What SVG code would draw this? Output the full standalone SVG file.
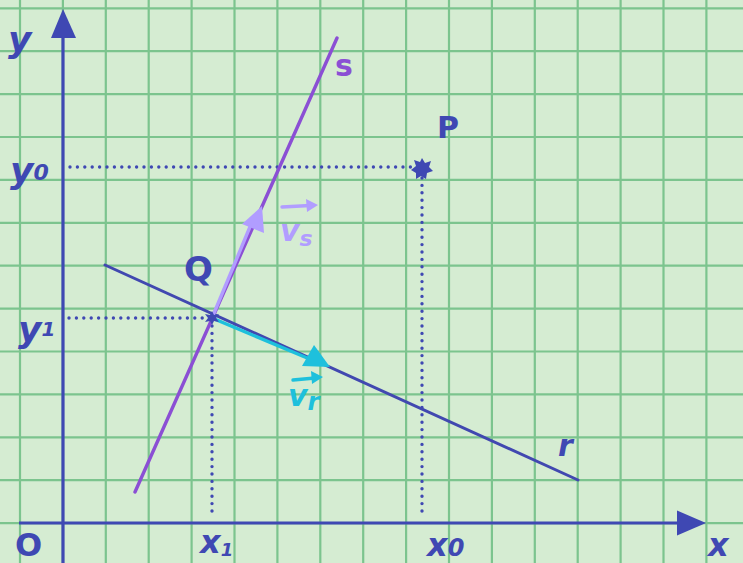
<svg xmlns="http://www.w3.org/2000/svg" width="743" height="563" viewBox="0 0 743 563">
<defs>
<style>
.grid{stroke:#7cc48e;stroke-width:2.2;fill:none}
.ax{stroke:#3f48b3;stroke-width:3.2;fill:none}
.dot{stroke:#3f48b3;stroke-width:3.4;stroke-linecap:round;stroke-dasharray:0 7.4;fill:none}
.lbl{font-family:"DejaVu Sans",sans-serif;font-weight:bold;fill:#3f48b3}
.hd{fill:#3f48b3}
</style>
</defs>
<rect width="743" height="563" fill="#d5ecd2"/>
<g id="grid">
<path class="grid" d="M20 0V563M62.9 0V563M105.8 0V563M148.7 0V563M191.6 0V563M234.5 0V563M277.4 0V563M320.3 0V563M363.2 0V563M406.1 0V563M449 0V563M491.9 0V563M534.8 0V563M577.7 0V563M620.6 0V563M663.5 0V563M706.4 0V563"/>
<path class="grid" d="M0 8.3H743M0 51.2H743M0 94.1H743M0 137H743M0 179.9H743M0 222.8H743M0 265.7H743M0 308.6H743M0 351.5H743M0 394.4H743M0 437.3H743M0 480.2H743M0 523.1H743"/>
</g>
<g id="axes">
<line class="ax" x1="63" y1="563" x2="63" y2="30"/>
<polygon class="hd" points="63,9 51,38 76,38"/>
<line class="ax" x1="19" y1="523" x2="685" y2="523"/>
<polygon class="hd" points="706,523 677,510.5 677,535.5"/>
</g>
<g id="connectors">
<line class="dot" x1="70" y1="167" x2="414" y2="167"/>
<line class="dot" x1="422" y1="178" x2="422" y2="518"/>
<line class="dot" x1="69" y1="318" x2="206" y2="318"/>
<line class="dot" x1="212" y1="326" x2="212" y2="518"/>
<line id="line-s" x1="135" y1="492" x2="337" y2="38" stroke="#8b4fd4" stroke-width="3.4" stroke-linecap="round"/>
<line id="line-r" x1="105" y1="265" x2="578" y2="480" stroke="#4148b0" stroke-width="3" stroke-linecap="round"/>
<line id="vec-s" x1="212" y1="318" x2="252" y2="222" stroke="#b19dff" stroke-width="3.4"/>
<polygon points="262,206 242,224 264,233" fill="#b19dff"/>
<line id="vec-r" x1="212" y1="318" x2="312" y2="360" stroke="#1ec0dc" stroke-width="3.4"/>
<polygon points="330,367 302,366 314,345" fill="#1ec0dc"/>
</g>
<g id="P">
<polygon class="hd" points="422,158 425,163 431,161 429,167 433,171 427,173 426,179 421,176 416,179 416,173 411,170 416,166 414,160 420,162"/>
<text class="lbl" x="437" y="138" font-size="30">P</text>
</g>
<g id="Q">
<polygon class="hd" points="212,311 214,315 219,314 216,318 219,322 214,321 212,325 210,321 205,322 208,318 205,314 210,315"/>
<text class="lbl" x="184" y="281" font-size="34">Q</text>
</g>
<g id="labels">
<text class="lbl" x="8" y="52" font-size="36" font-style="italic">y</text>
<text class="lbl" x="10" y="183" font-size="36" font-style="italic">y<tspan font-size="22" dy="-3">0</tspan></text>
<text class="lbl" x="18" y="342" font-size="36" font-style="italic">y<tspan font-size="20" dy="-6">1</tspan></text>
<text class="lbl" x="15" y="556" font-size="32">O</text>
<text class="lbl" x="200" y="553" font-size="32" font-style="italic">x<tspan font-size="18" dy="3">1</tspan></text>
<text class="lbl" x="427" y="556" font-size="32" font-style="italic">x<tspan font-size="24" dy="0">0</tspan></text>
<text class="lbl" x="708" y="556" font-size="32" font-style="italic">x</text>
<text x="335" y="76" font-size="30" font-family="DejaVu Sans,sans-serif" font-weight="bold" fill="#8b4fd4">s</text>
<text class="lbl" x="558" y="456" font-size="30" font-style="italic">r</text>
</g>
<g id="label-vs" fill="#b19dff">
<path d="M282 207 L310 205.5" stroke="#b19dff" stroke-width="3.4" stroke-linecap="round"/>
<polygon points="318,205 306,199 307,212"/>
<text x="280" y="241" font-size="30" font-family="DejaVu Sans,sans-serif" font-weight="bold" font-style="italic">v<tspan font-size="22" dy="5">s</tspan></text>
</g>
<g id="label-vr" fill="#1ec0dc">
<path d="M293 380 L315 378" stroke="#1ec0dc" stroke-width="3.4" stroke-linecap="round"/>
<polygon points="323,377 311,371 312,384"/>
<text x="288" y="406" font-size="30" font-family="DejaVu Sans,sans-serif" font-weight="bold" font-style="italic">v<tspan font-size="24" dy="4">r</tspan></text>
</g>
</svg>
